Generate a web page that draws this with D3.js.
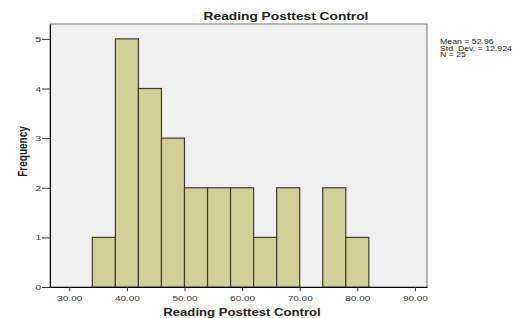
<!DOCTYPE html>
<html>
<head>
<meta charset="utf-8">
<script src="https://cdn.jsdelivr.net/npm/d3@7"></script>
<style>
  body { margin: 0; background: #fff; }
  text { font-family: "Liberation Sans", Arial, sans-serif; }
</style>
</head>
<body>
<div id="chart"></div>
<script>
// histogram bins (lower edge), width 4
var binStarts = [34, 38, 42, 46, 50, 54, 58, 62, 66, 70, 74, 78];
var counts = [1, 5, 4, 3, 2, 2, 2, 1, 2, 0, 2, 1];
var binWidth = 4;
var xTicks = [30, 40, 50, 60, 70, 80, 90];
var yTicks = [0, 1, 2, 3, 4, 5];
var statLines = ["Mean = 52.96", "Std. Dev. = 12.924", "N = 25"];

var stretch = 1.25; // text in the picture is wider than it is tall

var margin = {top: 24, right: 105, bottom: 31, left: 50},
    width = 532 - margin.left - margin.right,
    height = 318 - margin.top - margin.bottom;

var svg = d3.select("#chart")
  .append("svg")
    .attr("width", 532)
    .attr("height", 318);

var g = svg.append("g")
    .attr("transform", "translate(" + margin.left + "," + margin.top + ")");

var x = d3.scaleLinear()
    .domain([26.65, 92.1])
    .range([0, width]);

var y = d3.scaleLinear()
    .domain([0, 5.3])
    .range([height, 0]);

// plot background
g.append("rect")
    .attr("width", width)
    .attr("height", height)
    .attr("fill", "#f0f0f0")
    .attr("stroke", "#777")
    .attr("stroke-width", 1);

// bars
g.selectAll(".bar")
    .data(binStarts.map(function(d, i) { return {x0: d, n: counts[i]}; }).filter(function(d) { return d.n > 0; }))
  .enter()
  .append("rect")
    .attr("class", "bar")
    .attr("x", function(d) { return x(d.x0); })
    .attr("y", function(d) { return y(d.n); })
    .attr("width", function(d) { return x(d.x0 + binWidth) - x(d.x0); })
    .attr("height", function(d) { return height - y(d.n); })
    .attr("fill", "#d3cf98")
    .attr("stroke", "#3e3e32")
    .attr("stroke-width", 1.2);

// axes
var xAxis = g.append("g")
    .attr("transform", "translate(0," + height + ")")
    .call(d3.axisBottom(x).tickValues(xTicks).tickFormat(d3.format(".2f")).tickSizeInner(4).tickSizeOuter(0));

var yAxis = g.append("g")
    .call(d3.axisLeft(y).tickValues(yTicks).tickFormat(d3.format("d")).tickSizeInner(8).tickSizeOuter(0));

[xAxis, yAxis].forEach(function(a) {
  a.select(".domain").attr("stroke", "#000");
  a.selectAll(".tick line").attr("stroke", "#333");
  a.selectAll(".tick text")
    .attr("fill", "#333")
    .style("font-size", "8px");
});
// stretch the tick labels horizontally around their anchor
xAxis.selectAll(".tick text")
    .attr("y", 0)
    .attr("dy", 0)
    .attr("transform", "translate(0,14) scale(" + stretch + ",1)");
yAxis.selectAll(".tick text")
    .attr("x", 0)
    .attr("transform", "translate(-9,0) scale(" + stretch + ",1)");

function stretchedText(px, py, anchor, size, weight, str) {
  svg.append("text")
      .attr("transform", "translate(" + px + "," + py + ") scale(" + stretch + ",1)")
      .attr("text-anchor", anchor)
      .style("font-size", size + "px")
      .style("font-weight", weight)
      .attr("fill", "#222")
      .text(str);
}

// title
stretchedText(286, 20, "middle", 11, "bold", "Reading Posttest Control");

// x label
stretchedText(242, 316, "middle", 10.5, "bold", "Reading Posttest Control");

// y label
svg.append("text")
    .attr("transform", "translate(27," + (margin.top + height / 2 - 4) + ") rotate(-90) scale(1," + stretch + ")")
    .attr("text-anchor", "middle")
    .style("font-size", "10px")
    .style("font-weight", "bold")
    .attr("fill", "#222")
    .text("Frequency");

// stats box text
statLines.forEach(function(d, i) {
  stretchedText(440, 44 + i * 6.5, "start", 7, "normal", d);
});
</script>
</body>
</html>
